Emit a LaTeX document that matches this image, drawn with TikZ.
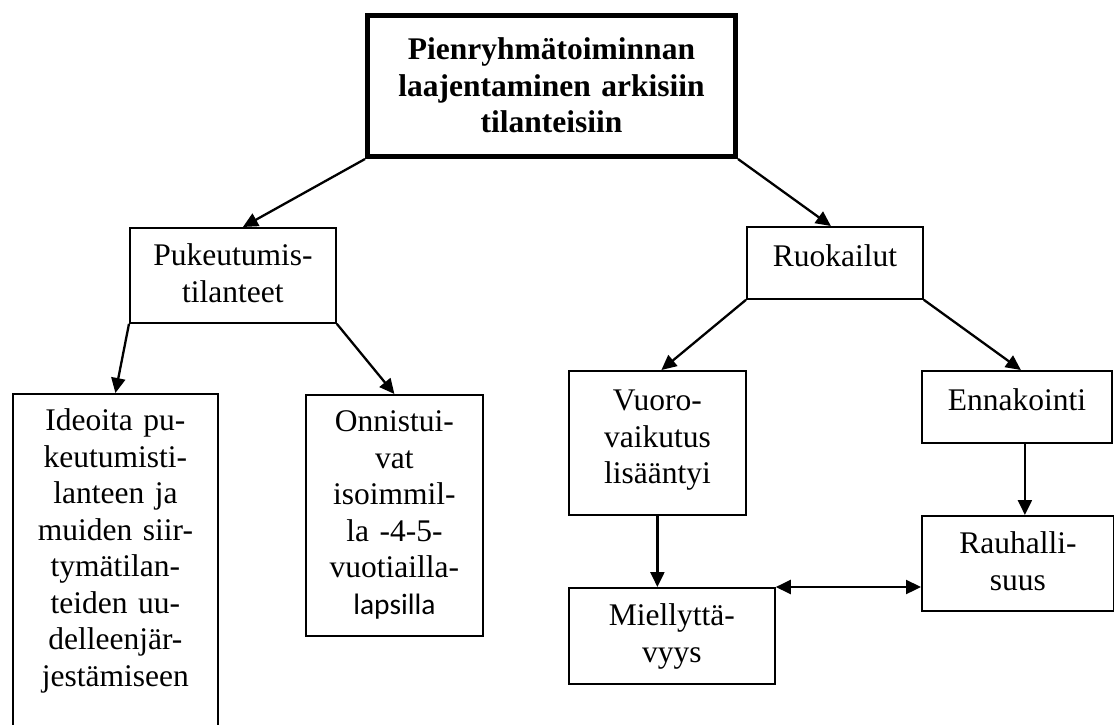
\documentclass[tikz,border=0pt]{standalone}
\usepackage{fontspec}
\setmainfont{Liberation Serif}
\newfontfamily\calibrifont{Carlito}
\usetikzlibrary{graphs}
\usetikzlibrary{arrows.meta}
\tikzstyle{box} = [draw, line width=1.8pt, inner sep=0pt, anchor=north west, align=center, text height=40pt, font=\fontsize{31.5}{36.5}\selectfont]
\tikzstyle{title} = [box, line width=5pt, text height=44pt, font=\fontsize{31.5}{36.5}\selectfont\bfseries]
\tikzstyle{link} = [line width=2.3pt]

\begin{document}
\begin{tikzpicture}[x=1pt, y=-1pt, >={Triangle[length=15pt, width=14pt]}]
        \useasboundingbox (0,0) rectangle (1114,724);

        \node[title, text width=368pt, text depth=97pt](14) at (365,13){Pienryhmätoiminnan \\ laajentaminen arkisiin \\ tilanteisiin};

        \node[box, text width=206pt, text depth=57pt, text height=38pt](22) at (129,227){Pukeutumis- \\ tilanteet};
        \node[box, text width=176pt, text depth=32pt](26) at (746,226){Ruokailut};

        \node[box, text width=205pt, text depth=310pt, text height=37pt](31) at (12,393){Ideoita pu- \\ keutumisti- \\ lanteen ja \\ muiden siir- \\ tymätilan- \\ teiden uu- \\ delleenjär- \\ jestämiseen};
        \node[box, text width=177pt, text depth=204pt, text height=37pt](33) at (305,394){Onnistui- \\ vat \\ isoimmil- \\ la -4-5- \\ vuotiailla- \\ {\calibrifont\fontsize{29.5}{36.5}\selectfont lapsilla}};
        \node[box, text width=177pt, text depth=104pt](35) at (568,370){Vuoro- \\ vaikutus \\ lisääntyi};
        \node[box, text width=190pt, text depth=32pt](37) at (921,370){Ennakointi};

        \node[box, text width=206pt, text depth=58pt, text height=38pt](45) at (568,587){Miellyttä- \\ vyys};
        \node[box, text width=192pt, text depth=57pt, text height=38pt](47) at (921,515){Rauhalli- \\ suus};

        \graph {
            (14) ->[to path={(\tikztostart.south west) -- ([xshift=10pt]\tikztotarget.north)}, link] (22);
            (14) ->[to path={(\tikztostart.south east) -- ([xshift=-4pt]\tikztotarget.north)}, link] (26);
            (22) ->[to path={(\tikztostart.south west) -- (\tikztotarget.north)}, link] (31);
            (22) ->[to path={(\tikztostart.south east) -- (\tikztotarget.north)}, link] (33);
            (26) ->[to path={(\tikztostart.south west) -- ([xshift=4pt]\tikztotarget.north)}, link] (35);
            (26) ->[to path={(\tikztostart.south east) -- ([xshift=4pt]\tikztotarget.north)}, link] (37);
            (35) ->[to path={(\tikztostart.south) -- (\tikztostart.south |- \tikztotarget.north)}, link] (45);
            (37) ->[to path={([xshift=8pt]\tikztostart.south) -- ([xshift=8pt]\tikztostart.south |- \tikztotarget.north)}, link] (47);
            (45) <->[to path={(\tikztostart.north east) -- (\tikztostart.north east -| \tikztotarget.west)}, link] (47);
        };
    \end{tikzpicture}
\end{document}
